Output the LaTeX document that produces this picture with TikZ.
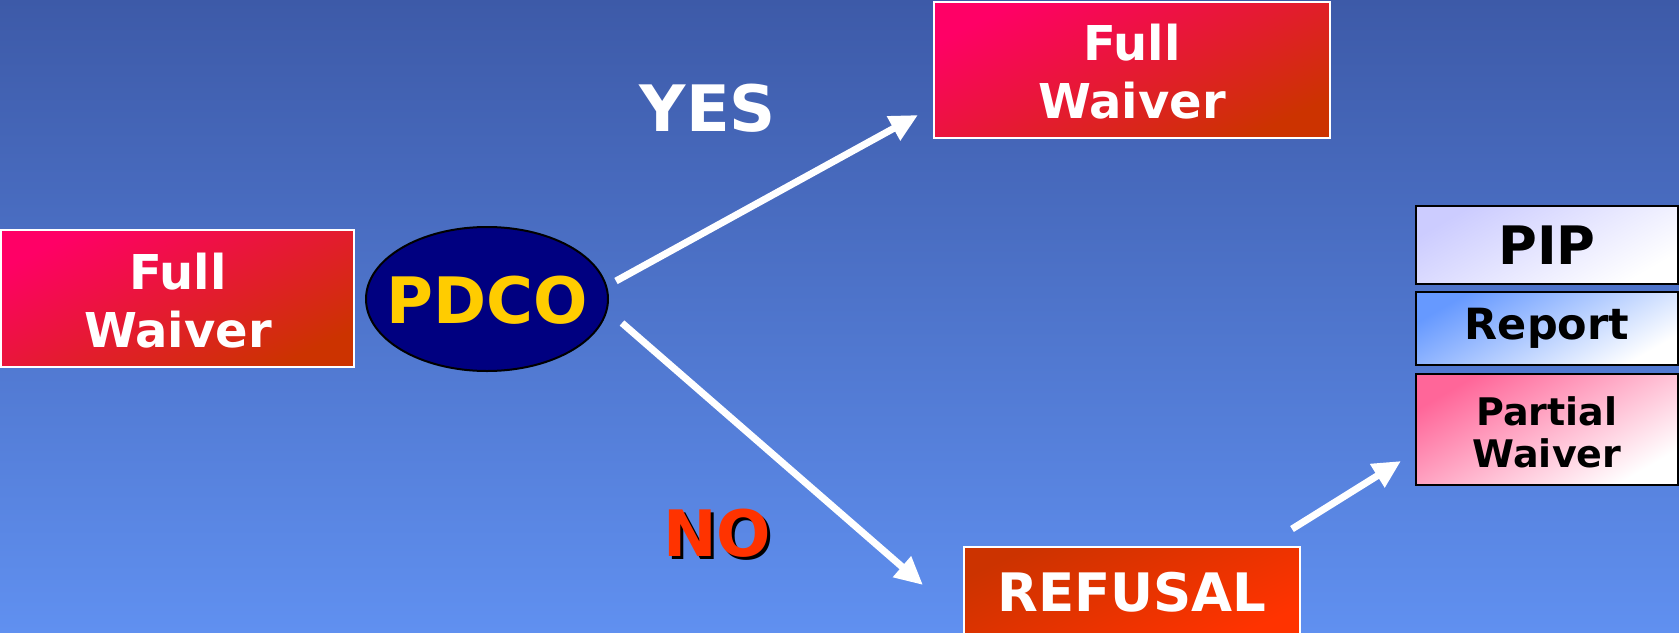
\documentclass[tikz,border=0pt]{standalone}
\usepackage{fontspec}
\setmainfont{DejaVu Sans}
\usetikzlibrary{arrows.meta,shapes.geometric}
\definecolor{bgtop}{RGB}{61,90,168}
\definecolor{bgbot}{RGB}{96,144,240}
\definecolor{pinkA}{RGB}{255,0,102}
\definecolor{redB}{RGB}{204,51,0}
\definecolor{orangeB}{RGB}{255,51,0}
\definecolor{lilac}{RGB}{204,204,255}
\definecolor{skyA}{RGB}{102,153,255}
\definecolor{rosA}{RGB}{255,102,153}
\definecolor{navyE}{RGB}{0,0,128}
\definecolor{goldT}{RGB}{255,204,0}
\tikzset{
  redbox/.style={draw=white, line width=1.5pt, top color=pinkA, bottom color=redB, shading angle=25,
    inner sep=0pt},
  refbox/.style={draw=white, line width=1.5pt, top color=redB, bottom color=orangeB, shading angle=25,
    text=white, font=\fontsize{53}{58}\selectfont\bfseries, inner sep=0pt},
  lightbox/.style={draw=black, line width=2pt, top color=#1, bottom color=white, shading angle=30,
    text=black, align=center, inner sep=0pt},
  fwtext/.style={text=white, font=\fontsize{48}{58}\selectfont\bfseries, align=center, inner sep=0pt},
  warrow/.style={draw=white, line width=7pt, -{Triangle[width=26pt,length=28pt]}},
  biglabel/.style={font=\fontsize{64}{70}\selectfont\bfseries, inner sep=0pt}
}
\begin{document}
\begin{tikzpicture}[x=1pt,y=-1pt]
\useasboundingbox (0,0) rectangle (1679,632);
\shade[top color=bgtop, bottom color=bgbot] (0,0) rectangle (1679,632);

\node[redbox, minimum width=353pt, minimum height=137pt] (fwleft) at (177.5,298.5) {};
\node[fwtext] (fwlefttxt) at (178,301) {Full\\Waiver};

\node[ellipse, draw=black, line width=2pt, fill=navyE, minimum width=242pt, minimum height=144pt, inner sep=0pt] (pdco) at (487,299) {};
\node[text=goldT, font=\fontsize{64}{70}\selectfont\bfseries, inner sep=0pt] (pdcotxt) at (487,300) {PDCO};

\node[redbox, minimum width=396pt, minimum height=136pt] (fwtop) at (1132,70) {};
\node[fwtext] (fwtoptxt) at (1132,72) {Full\\Waiver};

\node[refbox, minimum width=336pt, minimum height=90pt] (refusal) at (1132,592) {REFUSAL};

\node[lightbox=lilac, minimum width=262pt, minimum height=78pt, font=\fontsize{53}{58}\selectfont\bfseries] (pip) at (1547,245) {PIP};
\node[lightbox=skyA, minimum width=262pt, minimum height=73pt, font=\fontsize{43}{50}\selectfont\bfseries] (report) at (1547,328.5) {Report};
\node[lightbox=rosA, minimum width=262pt, minimum height=111pt] (partial) at (1547,429.5) {};
\node[text=black, font=\fontsize{38}{42}\selectfont\bfseries, align=center, inner sep=0pt] (partialtxt) at (1547,432) {Partial\\Waiver};

\node[biglabel, text=white] (yes) at (708,108) {YES};
\node[biglabel, text=black] (noshadow) at (720,536) {NO};
\node[biglabel, text=orangeB] (no) at (717,533) {NO};

\coordinate (yesA) at (616,281);
\coordinate (yesB) at (918,115);
\coordinate (noA) at (622,323);
\coordinate (noB) at (923,585);
\coordinate (refA) at (1292,529);
\coordinate (refB) at (1401,461);
\draw[warrow] (yesA) -- (yesB);
\draw[warrow] (noA) -- (noB);
\draw[warrow] (refA) -- (refB);
\end{tikzpicture}
\end{document}
